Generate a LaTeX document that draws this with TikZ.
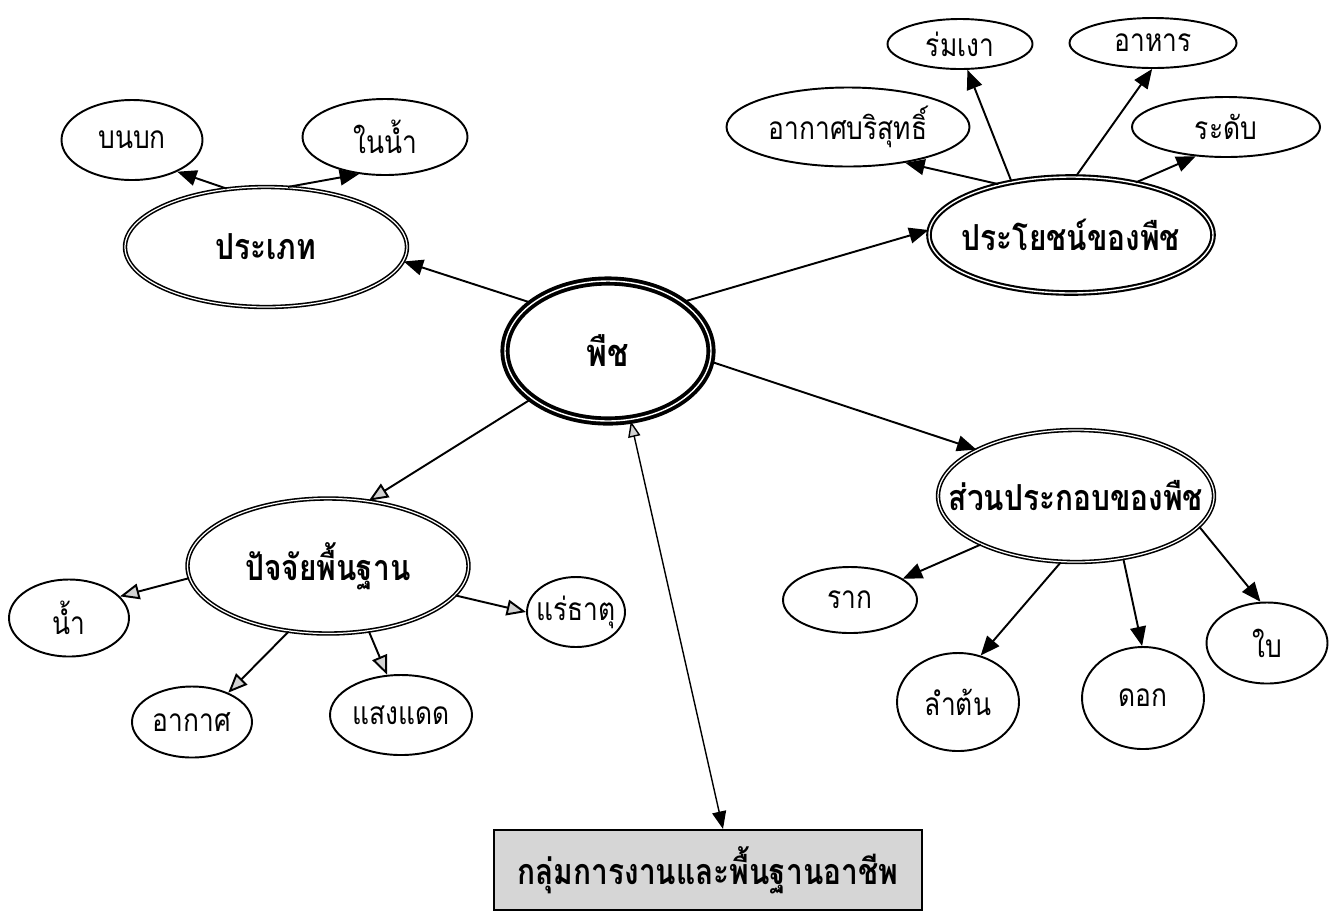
\documentclass[tikz,border=0pt]{standalone}
\usepackage{fontspec}
\usepackage{graphicx}
\newfontfamily\thai[Script=Thai]{Loma}
\usetikzlibrary{shapes.geometric,arrows.meta,calc}
\newlength{\pxu}\setlength{\pxu}{0.02cm}
\newcommand{\ctr}[1]{\makebox[0pt]{\scalebox{1}[1.2]{#1}}}
\tikzset{
  leaf/.style={ellipse, draw, line width=1.1pt, inner sep=0pt,
    font=\thai\fontsize{15}{18}\selectfont},
  hub/.style={ellipse, draw, line width=0.9pt, double=white, double distance=0.7pt,
    inner sep=0pt, font=\thai\bfseries\fontsize{17}{20}\selectfont},
  bighub/.style={hub, line width=1.2pt, double distance=0.8pt},
  core/.style={ellipse, draw, line width=2.2pt, double=white, double distance=0.8pt,
    inner sep=0pt, font=\thai\bfseries\fontsize{18}{21}\selectfont},
  banner/.style={rectangle, draw, line width=1.2pt, fill=gray!32, inner sep=0pt,
    font=\thai\bfseries\fontsize{17}{20}\selectfont},
  conn/.style={line width=1.1pt, -{Triangle[length=11pt,width=9pt]}},
  oconn/.style={line width=1.1pt, -{Triangle[length=11pt,width=9pt,fill=gray!35]}},
  dconn/.style={line width=0.8pt, {Triangle[length=9pt,width=7pt,fill=gray!35]}-{Triangle[length=10pt,width=8pt]}},
}
\begin{document}
\begin{tikzpicture}[x=0.02cm,y=-0.02cm]
\fill[white] (0,0) rectangle (1334,914);
\useasboundingbox (0,0) rectangle (1334,914);

% centre
\node[core, minimum width=206\pxu, minimum height=140\pxu] (P) at (608,351) {\ctr{พืช}};

% type
\node[hub, minimum width=282\pxu, minimum height=120\pxu] (T) at (266,247) {\ctr{ประเภท}};
\node[leaf, minimum width=141\pxu, minimum height=80\pxu] (T1) at (132,140) {\ctr{บนบก}};
\node[leaf, minimum width=165\pxu, minimum height=76\pxu] (T2) at (385,137) {\ctr{ในน้ำ}};

% benefits
\node[bighub, minimum width=284\pxu, minimum height=116\pxu] (B) at (1071,235) {\ctr{ประโยชน์ของพืช}};
\node[leaf, minimum width=243\pxu, minimum height=79\pxu] (B1) at (848,127) {\ctr{อากาศบริสุทธิ์}};
\node[leaf, minimum width=145\pxu, minimum height=50\pxu] (B2) at (960,44) {\ctr{ร่มเงา}};
\node[leaf, minimum width=167\pxu, minimum height=50\pxu] (B3) at (1153,43) {\ctr{อาหาร}};
\node[leaf, minimum width=188\pxu, minimum height=60\pxu] (B4) at (1226,127) {\ctr{ระดับ}};

% basic factors
\node[hub, minimum width=281\pxu, minimum height=135\pxu] (F) at (328,566) {\ctr{ปัจจัยพื้นฐาน}};
\node[leaf, minimum width=120\pxu, minimum height=77\pxu] (F1) at (69,618) {\ctr{น้ำ}};
\node[leaf, minimum width=120\pxu, minimum height=71\pxu] (F2) at (192,722) {\ctr{อากาศ}};
\node[leaf, minimum width=142\pxu, minimum height=80\pxu] (F3) at (401,715) {\ctr{แสงแดด}};
\node[leaf, minimum width=98\pxu, minimum height=70\pxu] (F4) at (576,612) {\ctr{แร่ธาตุ}};

% parts
\node[hub, minimum width=276\pxu, minimum height=132\pxu] (S) at (1076,496) {\ctr{ส่วนประกอบของพืช}};
\node[leaf, minimum width=134\pxu, minimum height=66\pxu] (S1) at (850,600) {\ctr{ราก}};
\node[leaf, minimum width=122\pxu, minimum height=98\pxu] (S2) at (958,702) {\ctr{ลำต้น}};
\node[leaf, minimum width=122\pxu, minimum height=102\pxu] (S3) at (1143,698) {\ctr{ดอก}};
\node[leaf, minimum width=121\pxu, minimum height=81\pxu] (S4) at (1267,643) {\ctr{ใบ}};

% banner
\node[banner, minimum width=428\pxu, minimum height=80\pxu] (box) at (708,870) {\ctr{กลุ่มการงานและพื้นฐานอาชีพ}};

% connectors from centre
\draw[conn] (P.148.5) -- (T.-6.2);
\draw[conn] (P.33.4) -- (B.178.8);
\draw[conn] (P.-6.4) -- (S.155.6);
\draw[oconn] (P.-148) -- (F.58.8);
\draw[dconn] (P.-72) -- ([xshift=15\pxu]box.north);

% type children
\draw[conn] (T.124.4) -- (T1.-35.4);
\draw[conn] (T.70.4) -- (T2.-125.4);

% benefit children
\draw[conn] (B.145.8) -- (B1.-32.6);
\draw[conn] (B.138.1) -- (B2.-74.6);
\draw[conn] (B.85.8) -- (B3.-92.6);
\draw[conn] (B.39.8) -- (B4.-136);

% factor children
\draw[oconn] (F.185.3) -- (F1.23.2);
\draw[oconn] (F.239.8) -- (F2.39.8);
\draw[oconn] (F.-58.8) -- (F3.109.3);
\draw[oconn] (F.-13) -- (F4.180);

% part children
\draw[conn] (S.-153.4) -- (S1.22.6);
\draw[conn] (S.-103.6) -- (S2.64.9);
\draw[conn] (S.-53.7) -- (S3.91.3);
\draw[conn] (S.-14.1) -- (S4.99.2);
\end{tikzpicture}
\end{document}
